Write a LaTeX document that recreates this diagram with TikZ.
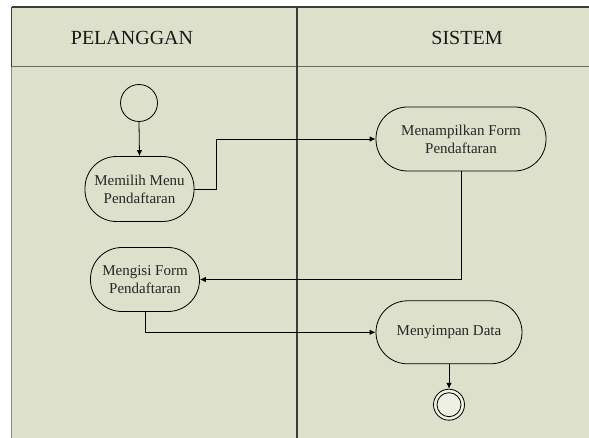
\documentclass[tikz,border=0pt]{standalone}
\usepackage{fontspec}
\setmainfont{Liberation Serif}
\usetikzlibrary{arrows.meta}
\definecolor{lanebg}{RGB}{221,224,203}
\definecolor{laneline}{RGB}{58,62,55}
\definecolor{headline}{RGB}{105,110,98}
\definecolor{endfill}{RGB}{238,240,228}
\tikzset{
  activity/.style={draw=black, line width=0.8pt, rectangle, rounded corners=31.5pt,
    inner sep=0pt, align=center, font=\fontsize{15}{18}\selectfont, text=black!85},
  startnode/.style={draw=black, line width=0.8pt, circle, inner sep=0pt, minimum size=37pt},
  endouter/.style={draw=black, line width=0.8pt, circle, inner sep=0pt, minimum size=31pt, fill=endfill},
  endinner/.style={draw=black, line width=0.8pt, circle, inner sep=0pt, minimum size=24pt, fill=endfill},
  flow/.style={draw=black, line width=0.8pt, -{Latex[length=6pt,width=5.5pt]}},
  lanetitle/.style={font=\fontsize{20}{24}\selectfont, text=black!90},
}
\begin{document}
\begin{tikzpicture}[x=1pt,y=-1pt]
  \useasboundingbox (0,0) rectangle (589,438);
  \fill[white] (0,0) rectangle (589,438);
  % swimlane pool
  \fill[lanebg] (11.7,7) rectangle (589,438);
  \draw[laneline, line width=1.4pt] (11.7,7) -- (589,7);
  \draw[headline, line width=1.6pt] (11.7,66.7) -- (589,66.7);
  \draw[laneline, line width=1.4pt] (11.7,7) -- (11.7,66.7);
  \draw[headline!80, line width=1.4pt] (11.7,66.7) -- (11.7,438);
  \draw[laneline, line width=1.8pt] (296.7,7) -- (296.7,438);
  \node[lanetitle] (tpel) at (132,38) {PELANGGAN};
  \node[lanetitle] (tsis) at (467,38) {SISTEM};

  % activities
  \node[startnode] (start) at (139,103) {};
  \node[activity, minimum width=109pt, minimum height=65pt] (memilih) at (139.5,189)
    {Memilih Menu\\Pendaftaran};
  \node[activity, minimum width=170pt, minimum height=64pt] (tampil) at (461,139)
    {Menampilkan Form\\Pendaftaran};
  \node[activity, minimum width=109pt, minimum height=64pt] (isi) at (145,279.5)
    {Mengisi Form\\Pendaftaran};
  \node[activity, minimum width=146pt, minimum height=63pt] (simpan) at (449,332.3)
    {Menyimpan Data};
  \node[endouter] (final) at (449,404.7) {};
  \node[endinner] (finalin) at (final.center) {};

  % control flow
  \draw[flow] (start.south) -- (memilih.north);
  \draw[flow] (memilih.east) -- ++(22,0) |- (tampil.west);
  \draw[flow] (tampil.south) |- (isi.east);
  \draw[flow] (isi.south) |- (simpan.west);
  \draw[flow] (simpan.south) -- (final.north);
\end{tikzpicture}
\end{document}
